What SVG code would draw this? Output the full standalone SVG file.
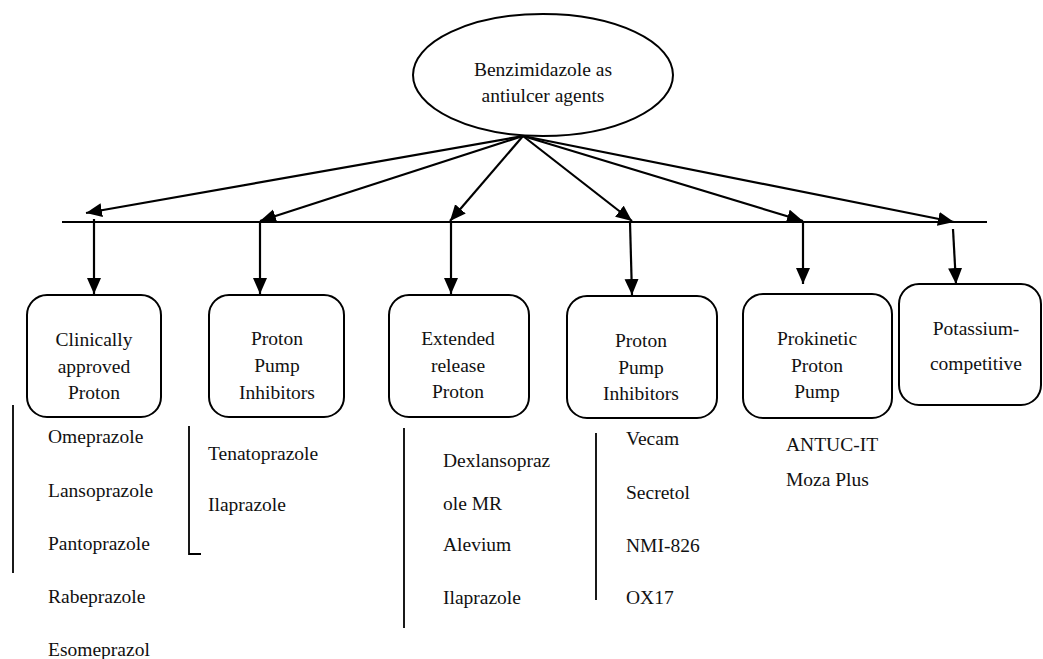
<svg xmlns="http://www.w3.org/2000/svg" width="1043" height="659" viewBox="0 0 1043 659">
<style>
  text { font-family: "Liberation Serif", "Times New Roman", serif; font-size: 19.5px; fill: #111; }
  .c { text-anchor: middle; }
  .node { fill: #fff; stroke: #000; stroke-width: 2; }
  .arr { stroke: #000; stroke-width: 2.2; fill: none; marker-end: url(#ah); }
  .ln { stroke: #000; stroke-width: 1.8; fill: none; }
</style>
<defs>
  <marker id="ah" markerUnits="userSpaceOnUse" markerWidth="17" markerHeight="15" refX="16" refY="7" orient="auto">
    <path d="M0,0 L16,7 L0,14 z" fill="#000"/>
  </marker>
</defs>
<rect width="1043" height="659" fill="#fff"/>

<g id="connectors">
  <line class="ln" x1="62" y1="222" x2="987" y2="222"/>
  <line class="arr" x1="523" y1="136" x2="86" y2="213"/>
  <line class="arr" x1="523" y1="136" x2="260" y2="221"/>
  <line class="arr" x1="523" y1="136" x2="450" y2="221"/>
  <line class="arr" x1="523" y1="136" x2="632" y2="221"/>
  <line class="arr" x1="523" y1="136" x2="803" y2="221"/>
  <line class="arr" x1="523" y1="136" x2="954" y2="222"/>
  <line class="arr" x1="94" y1="219" x2="94" y2="294"/>
  <line class="arr" x1="260" y1="222" x2="260" y2="294"/>
  <line class="arr" x1="451" y1="222" x2="451" y2="294"/>
  <line class="arr" x1="630" y1="222" x2="632" y2="295"/>
  <line class="arr" x1="803" y1="222" x2="803" y2="284"/>
  <line class="arr" x1="953" y1="229" x2="956" y2="284"/>
</g>

<g id="root">
  <ellipse class="node" cx="543" cy="75" rx="130" ry="61"/>
  <text class="c" x="543" y="76">Benzimidazole as</text>
  <text class="c" x="543" y="102">antiulcer agents</text>
</g>

<g id="n1">
  <rect class="node" x="27" y="295" width="134" height="122" rx="20"/>
  <text class="c" x="94" y="346">Clinically</text>
  <text class="c" x="94" y="373">approved</text>
  <text class="c" x="94" y="399">Proton</text>
</g>
<g id="n2">
  <rect class="node" x="209" y="295" width="135" height="122" rx="20"/>
  <text class="c" x="277" y="345">Proton</text>
  <text class="c" x="277" y="372">Pump</text>
  <text class="c" x="277" y="399">Inhibitors</text>
</g>
<g id="n3">
  <rect class="node" x="389" y="295" width="140" height="122" rx="20"/>
  <text class="c" x="458" y="345">Extended</text>
  <text class="c" x="458" y="372">release</text>
  <text class="c" x="458" y="398">Proton</text>
</g>
<g id="n4">
  <rect class="node" x="567" y="296" width="150" height="122" rx="20"/>
  <text class="c" x="641" y="347">Proton</text>
  <text class="c" x="641" y="374">Pump</text>
  <text class="c" x="641" y="400">Inhibitors</text>
</g>
<g id="n5">
  <rect class="node" x="743" y="294" width="149" height="124" rx="20"/>
  <text class="c" x="817" y="345">Prokinetic</text>
  <text class="c" x="817" y="372">Proton</text>
  <text class="c" x="817" y="398">Pump</text>
</g>
<g id="n6">
  <rect class="node" x="899" y="284" width="142" height="121" rx="20"/>
  <text class="c" x="976" y="335">Potassium-</text>
  <text class="c" x="976" y="370">competitive</text>
</g>

<g id="list1">
  <line class="ln" x1="13" y1="405" x2="13" y2="573"/>
  <text x="48" y="443">Omeprazole</text>
  <text x="48" y="497">Lansoprazole</text>
  <text x="48" y="550">Pantoprazole</text>
  <text x="48" y="603">Rabeprazole</text>
  <text x="48" y="656">Esomeprazol</text>
</g>
<g id="list2">
  <polyline class="ln" points="189,426 189,554 201,554"/>
  <text x="208" y="460">Tenatoprazole</text>
  <text x="208" y="511">Ilaprazole</text>
</g>
<g id="list3">
  <line class="ln" x1="404" y1="428" x2="404" y2="628"/>
  <text x="443" y="467">Dexlansopraz</text>
  <text x="443" y="510">ole MR</text>
  <text x="443" y="551">Alevium</text>
  <text x="443" y="604">Ilaprazole</text>
</g>
<g id="list4">
  <line class="ln" x1="596" y1="433" x2="596" y2="600"/>
  <text x="626" y="445">Vecam</text>
  <text x="626" y="499">Secretol</text>
  <text x="626" y="552">NMI-826</text>
  <text x="626" y="604">OX17</text>
</g>
<g id="list5">
  <text x="786" y="451">ANTUC-IT</text>
  <text x="786" y="486">Moza Plus</text>
</g>
</svg>
